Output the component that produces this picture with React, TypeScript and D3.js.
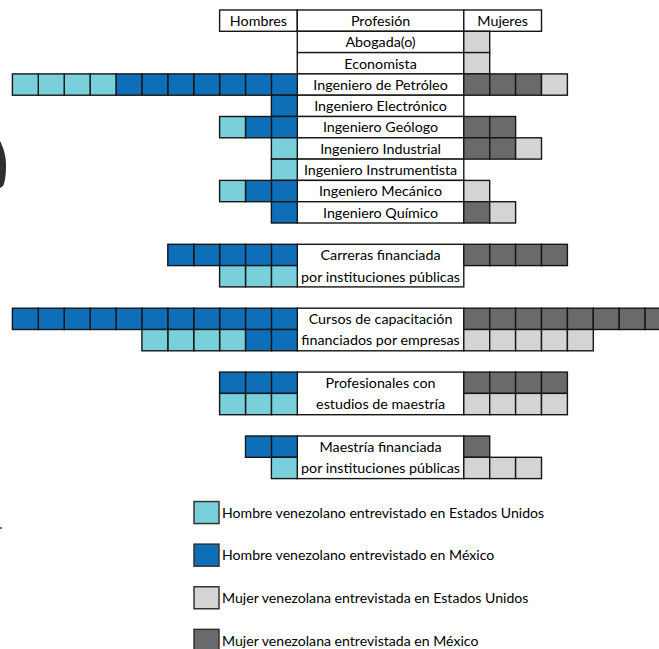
import React from "react";
import * as d3 from "d3";

// ---------- data ----------
const headers = ["Hombres", "Profesión", "Mujeres"];

const professions = [
  "Abogada(o)",
  "Economista",
  "Ingeniero de Petróleo",
  "Ingeniero Electrónico",
  "Ingeniero Geólogo",
  "Ingeniero Industrial",
  "Ingeniero Instrumentista",
  "Ingeniero Mecánico",
  "Ingeniero Químico",
];
const profMenMX = [0, 0, 7, 1, 2, 0, 0, 2, 1];
const profMenUS = [0, 0, 4, 0, 1, 1, 1, 1, 0];
const profWomenMX = [0, 0, 3, 0, 2, 2, 0, 0, 1];
const profWomenUS = [1, 1, 1, 0, 0, 1, 0, 1, 1];

const groupLabels = [
  ["Carreras financiada", "por instituciones públicas"],
  ["Cursos de capacitación", "financiados por empresas"],
  ["Profesionales con", "estudios de maestría"],
  ["Maestría financiada", "por instituciones públicas"],
];
// [first row, second row] per group
const groupMenMX = [[5, 0], [11, 2], [3, 0], [2, 0]];
const groupMenUS = [[0, 3], [0, 4], [0, 3], [0, 1]];
const groupWomenMX = [[4, 0], [8, 0], [4, 0], [1, 0]];
const groupWomenUS = [[0, 0], [0, 5], [0, 4], [0, 3]];

const legendLabels = [
  "Hombre venezolano entrevistado en Estados Unidos",
  "Hombre venezolano entrevistado en México",
  "Mujer venezolana entrevistada en Estados Unidos",
  "Mujer venezolana entrevistada en México",
];
const colors = {
  menUS: "#79cfda",
  menMX: "#0e6fb8",
  womenUS: "#d3d4d4",
  womenMX: "#6a6a6b",
};
const legendColors = [colors.menUS, colors.menMX, colors.womenUS, colors.womenMX];

// ---------- layout ----------
const W = 659;
const H = 649;
const FONT = "Lato, 'Open Sans', sans-serif";
const FS = 14.3;
const LEGEND_FS = 14.1;

export default function App() {
  const rowH = 21.3;
  const y = d3.scaleLinear().domain([0, 1]).range([10, 10 + rowH]);
  const unitW = 25.9;
  const centerL = 297.3;
  const centerR = 463.8;
  // men units extend left, women units extend right
  const xMen = d3.scaleLinear().domain([0, 1]).range([centerL, centerL - unitW]);
  const xWomen = d3.scaleLinear().domain([0, 1]).range([centerR, centerR + unitW]);

  type Row = { row: number; mMX: number; mUS: number; wMX: number; wUS: number };
  const rows: Row[] = [];
  professions.forEach((_, i) =>
    rows.push({ row: i + 1, mMX: profMenMX[i], mUS: profMenUS[i], wMX: profWomenMX[i], wUS: profWomenUS[i] })
  );
  groupLabels.forEach((_, g) => {
    for (let k = 0; k < 2; k++) {
      rows.push({
        row: 11 + g * 3 + k,
        mMX: groupMenMX[g][k],
        mUS: groupMenUS[g][k],
        wMX: groupWomenMX[g][k],
        wUS: groupWomenUS[g][k],
      });
    }
  });

  const cells: { x: number; y: number; w: number; h: number; fill: string }[] = [];
  rows.forEach((r) => {
    const top = y(r.row);
    let n = 0;
    for (let i = 0; i < r.mMX; i++, n++)
      cells.push({ x: xMen(n + 1), y: top, w: unitW, h: rowH, fill: colors.menMX });
    for (let i = 0; i < r.mUS; i++, n++)
      cells.push({ x: xMen(n + 1), y: top, w: unitW, h: rowH, fill: colors.menUS });
    n = 0;
    for (let i = 0; i < r.wMX; i++, n++)
      cells.push({ x: xWomen(n), y: top, w: unitW, h: rowH, fill: colors.womenMX });
    for (let i = 0; i < r.wUS; i++, n++)
      cells.push({ x: xWomen(n), y: top, w: unitW, h: rowH, fill: colors.womenUS });
  });

  const stroke = "#161616";
  const sw = 1.4;
  const txt = { fontFamily: FONT, fontSize: FS, fill: "#000" } as const;

  const legendY = (i: number) => y(23.5 + i * 2) + 2;

  return (
    <svg
      width={W}
      height={H}
      style={{ position: "absolute", left: 0, top: 0, background: "#fff" }}
    >
      <rect x={0} y={0} width={W} height={H} fill="#fff" />
      {/* header */}
      <rect x={xMen(3)} y={y(0)} width={unitW * 3} height={rowH} fill="#fff" stroke={stroke} strokeWidth={sw} />
      <rect x={centerL} y={y(0)} width={centerR - centerL} height={rowH} fill="#fff" stroke={stroke} strokeWidth={sw} />
      <rect x={centerR} y={y(0)} width={unitW * 3} height={rowH} fill="#fff" stroke={stroke} strokeWidth={sw} />
      <text x={xMen(1.5)} y={y(0.5)} dy="0.37em" textAnchor="middle" {...txt}>{headers[0]}</text>
      <text x={(centerL + centerR) / 2} y={y(0.5)} dy="0.37em" textAnchor="middle" {...txt}>{headers[1]}</text>
      <text x={xWomen(1.5)} y={y(0.5)} dy="0.37em" textAnchor="middle" {...txt}>{headers[2]}</text>

      {/* profession labels */}
      {professions.map((p, i) => (
        <g key={p}>
          <rect x={centerL} y={y(i + 1)} width={centerR - centerL} height={rowH} fill="#fff" stroke={stroke} strokeWidth={sw} />
          <text x={(centerL + centerR) / 2} y={y(i + 1.5)} dy="0.37em" textAnchor="middle" {...txt}>{p}</text>
        </g>
      ))}

      {/* group labels */}
      {groupLabels.map((g, i) => (
        <g key={i}>
          <rect x={centerL} y={y(11 + i * 3)} width={centerR - centerL} height={rowH * 2} fill="#fff" stroke={stroke} strokeWidth={sw} />
          {g.map((line, k) => (
            <text key={k} x={(centerL + centerR) / 2} y={y(11 + i * 3 + k + 0.5)} dy="0.37em" textAnchor="middle" {...txt}>{line}</text>
          ))}
        </g>
      ))}

      {/* unit cells */}
      {cells.map((c, i) => (
        <rect key={i} x={c.x} y={c.y} width={c.w} height={c.h} fill={c.fill} stroke={stroke} strokeWidth={sw} />
      ))}

      {/* legend */}
      {legendLabels.map((l, i) => (
        <g key={l}>
          <rect x={194} y={legendY(i) - 11} width={25} height={22} fill={legendColors[i]} stroke="#333" strokeWidth={1.5} />
          <text x={222} y={legendY(i)} dy="0.37em" {...txt} fontSize={LEGEND_FS}>{l}</text>
        </g>
      ))}

      {/* cropped artefacts at left edge */}
      <path d="M0,141 C3,147 6,155 6,165 C6,175 5,182 3,186 L0,188 Z" fill="#2b2f33" />
      <circle cx={1} cy={528} r={1} fill="#444" />
    </svg>
  );
}
